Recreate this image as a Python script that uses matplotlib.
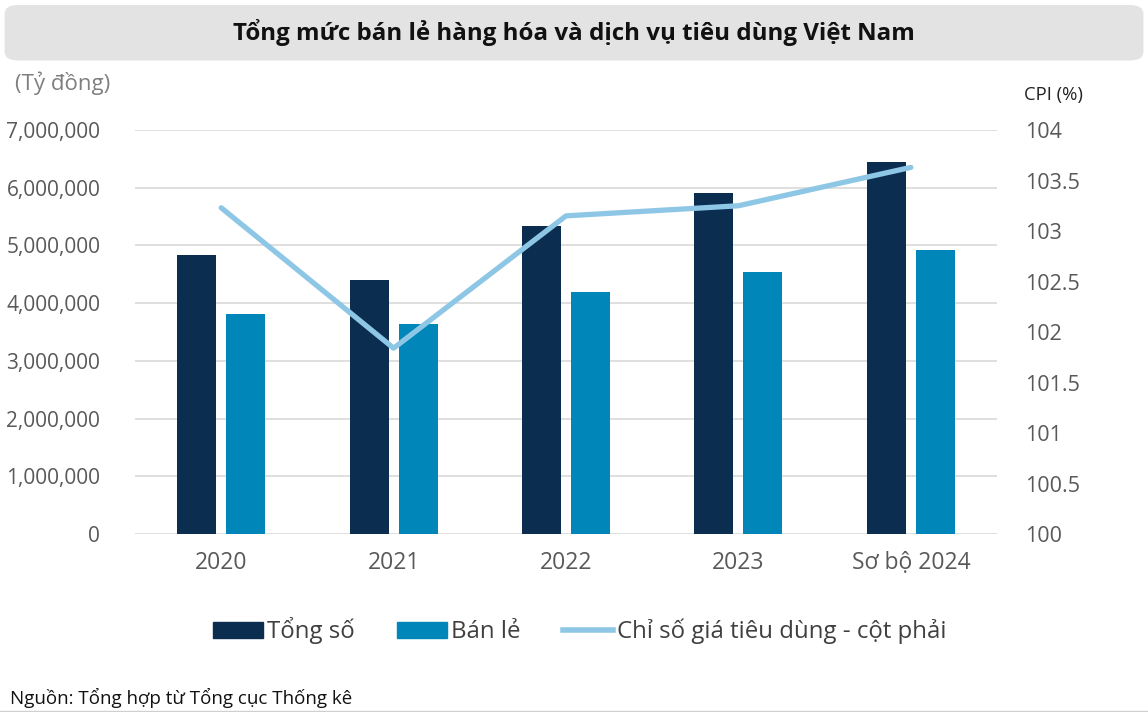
import matplotlib.pyplot as plt
import numpy as np
from matplotlib.patches import FancyBboxPatch
from matplotlib.lines import Line2D
from matplotlib.patches import Patch

plt.rcParams['font.family'] = ['Open Sans', 'Noto Sans', 'DejaVu Sans']

# Data
years = ["2020", "2021", "2022", "2023", "Sơ bộ 2024"]
tong_so = [4835000, 4400000, 5340000, 5910000, 6450000]
ban_le = [3810000, 3640000, 4190000, 4540000, 4920000]
cpi = [103.23, 101.84, 103.15, 103.25, 103.63]

c_tong = "#0b2d4f"
c_banle = "#0086b8"
c_cpi = "#8ec7e5"
c_tick = "#595959"

fig = plt.figure(figsize=(11.48, 7.12), dpi=100)

# Title box
box = FancyBboxPatch((0.004, 0.915), 0.992, 0.078, boxstyle="round,pad=0,rounding_size=0.012",
                     transform=fig.transFigure, facecolor="#e3e3e3", edgecolor="none")
fig.patches.append(box)
fig.text(0.5, 0.955, "Tổng mức bán lẻ hàng hóa và dịch vụ tiêu dùng Việt Nam",
         ha="center", va="center", fontsize=17.4, fontweight="bold", color="#111111")

ax = fig.add_axes([0.1176, 0.25, 0.7509, 0.5674])
x = np.arange(len(years))
w = 0.226
ax.bar(x - 0.142, tong_so, w, color=c_tong, zorder=3)
ax.bar(x + 0.142, ban_le, w, color=c_banle, zorder=3)
ax.set_xlim(-0.5, 4.5)
ax.set_ylim(0, 7000000)
ax.set_yticks(np.arange(0, 7000001, 1000000))
ax.set_yticklabels([f"{v:,}" for v in range(0, 7000001, 1000000)])
ax.set_xticks(x)
ax.set_xticklabels(years)
ax.grid(axis="y", color="#d9d9d9", linewidth=1.2, zorder=0)
for s in ax.spines.values():
    s.set_visible(False)
ax.tick_params(axis="both", length=0, labelsize=15, colors=c_tick)
ax.tick_params(axis="x", labelsize=16.5, pad=12)
ax.tick_params(axis="y", pad=25)

ax2 = ax.twinx()
ax2.plot(x, cpi, color=c_cpi, linewidth=3.8, solid_capstyle="round", zorder=4)
ax2.set_ylim(100, 104)
ax2.set_yticks(np.arange(100, 104.01, 0.5))
ax2.set_yticklabels(["100", "100.5", "101", "101.5", "102", "102.5", "103", "103.5", "104"])
for s in ax2.spines.values():
    s.set_visible(False)
ax2.tick_params(axis="y", length=0, labelsize=15.5, colors=c_tick, pad=20)

fig.text(0.013, 0.883, "(Tỷ đồng)", fontsize=16, color="#7f7f7f", va="center")
fig.text(0.892, 0.867, "CPI (%)", fontsize=13.3, color="#222222", va="center")

handles = [Patch(color=c_tong, label="Tổng số"),
           Patch(color=c_banle, label="Bán lẻ"),
           Line2D([0], [0], color=c_cpi, linewidth=4, label="Chỉ số giá tiêu dùng - cột phải")]
fig.legend(handles=handles, loc="center", bbox_to_anchor=(0.505, 0.114), ncol=3, frameon=False,
           fontsize=17.3, labelcolor="#404040", handlelength=2.1, handleheight=0.65,
           handletextpad=0.17, columnspacing=1.75)

fig.text(0.009, 0.02, "Nguồn: Tổng hợp từ Tổng cục Thống kê", fontsize=13.5, color="#111111", va="center")
fig.add_artist(Line2D([0, 1], [0.001, 0.001], color="#d0d0d0", linewidth=1, transform=fig.transFigure))

fig.savefig("out.png", dpi=100)
